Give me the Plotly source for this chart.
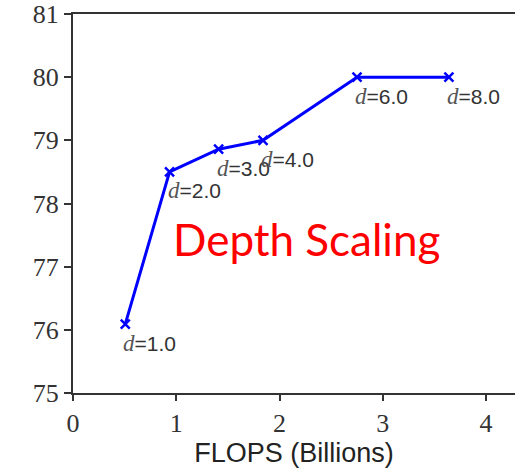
import plotly.graph_objects as go

flops = [0.506, 0.935, 1.41, 1.84, 2.75, 3.64]
acc = [76.09, 78.50, 78.86, 79.0, 80.0, 80.0]
depth_labels = ["1.0", "2.0", "3.0", "4.0", "6.0", "8.0"]
x_ticks = [0, 1, 2, 3, 4]
y_ticks = [75, 76, 77, 78, 79, 80, 81]

fig = go.Figure()
fig.add_trace(go.Scatter(
    x=flops, y=acc, mode="lines+markers",
    line=dict(color="#0000ff", width=3),
    marker=dict(symbol="x-thin", size=9, color="#0000ff", line=dict(color="#0000ff", width=2.5)),
    showlegend=False, cliponaxis=False,
))

for xv, yv, lab in zip(flops, acc, depth_labels):
    fig.add_annotation(
        x=xv, y=yv, xref="x", yref="y",
        text='<span style="font-family:\'Liberation Serif\';font-size:23px;color:#555555"><i>d</i></span>=' + lab,
        showarrow=False, xanchor="left", yanchor="middle", yshift=-19, xshift=-4,
        font=dict(family="Liberation Sans", size=21, color="#333333"),
    )

fig.add_annotation(
    x=(306 - 73) / (515 - 73), y=(393 - 238) / (393 - 12), xref="paper", yref="paper",
    text="Depth Scaling", showarrow=False,
    font=dict(family="Lato", size=44, color="#ff0000"), xanchor="center", yanchor="middle",
)

fig.update_layout(
    width=515, height=473,
    margin=dict(l=73, r=0, t=12, b=80),
    plot_bgcolor="white", paper_bgcolor="white",
    xaxis=dict(
        range=[0, 4.28], tickvals=x_ticks, showgrid=False, zeroline=False,
        showline=True, linecolor="#333333", linewidth=2, mirror=True,
        ticks="outside", ticklen=6, tickwidth=2, tickcolor="#333333",
        ticklabeloverflow="allow",
        tickfont=dict(family="Liberation Serif", size=26, color="#333333"),
        title=dict(text="FLOPS (Billions)", standoff=6,
                   font=dict(family="Liberation Sans", size=27, color="#222222")),
    ),
    yaxis=dict(
        range=[75, 81], tickvals=y_ticks, showgrid=False, zeroline=False,
        showline=True, linecolor="#333333", linewidth=2,
        ticks="outside", ticklen=7, tickwidth=2, tickcolor="#333333",
        ticklabeloverflow="allow",
        tickfont=dict(family="Liberation Serif", size=26, color="#333333"),
    ),
)

fig.write_html("out.html")
